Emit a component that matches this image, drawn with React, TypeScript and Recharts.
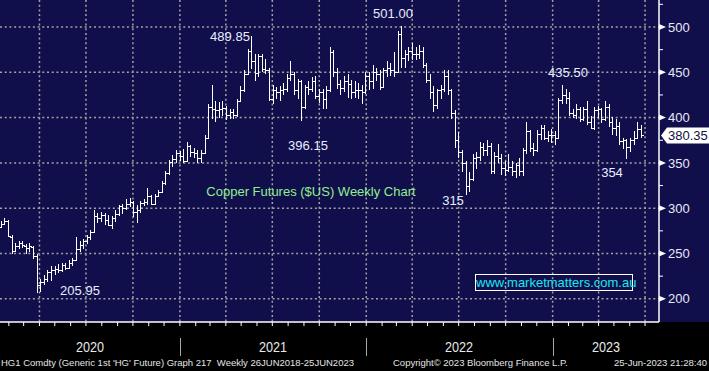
import React from "react";
import {
  ComposedChart,
  Bar,
  XAxis,
  YAxis,
  CartesianGrid,
  ReferenceLine,
} from "recharts";

const DAY = 86400000;
const firstWeek = Date.UTC(2020, 0, 17); // weekly bars, one per Friday

// weekly OHLC, HG1 copper (US c/lb)
const opens = [
  279, 283, 286, 268, 253, 258, 262, 258, 256, 257,
  247, 215, 218, 222, 230, 232, 233, 232, 237, 234,
  240, 243, 255, 259, 264, 268, 274, 291, 289, 292,
  287, 282, 289, 294, 302, 300, 305, 307, 296, 298,
  306, 307, 313, 305, 314, 318, 328, 339, 351, 354,
  361, 358, 352, 369, 362, 361, 355, 361, 378, 412,
  410, 408, 410, 411, 403, 406, 403, 418, 430, 448,
  474, 463, 449, 468, 454, 452, 420, 430, 428, 430,
  432, 444, 448, 430, 440, 412, 434, 432, 440, 424,
  428, 420, 430, 472, 450, 437, 433, 440, 437, 428,
  430, 431, 428, 446, 440, 450, 448, 434, 452, 455,
  452, 450, 492, 466, 470, 473, 470, 470, 474, 458,
  442, 428, 414, 430, 432, 446, 430, 405, 375, 362,
  350, 325, 332, 355, 356, 368, 364, 369, 341, 358,
  355, 344, 342, 345, 341, 348, 341, 364, 385, 366,
  364, 382, 389, 378, 381, 381, 378, 419, 425, 422,
  405, 403, 410, 398, 409, 395, 388, 408, 409, 398,
  412, 395, 388, 391, 374, 375, 368, 375, 377, 387,
];

const highs = [
  286, 289, 287, 270, 262, 264, 264, 260, 262, 258,
  250, 222, 226, 232, 236, 236, 238, 240, 240, 243,
  245, 268, 264, 266, 270, 276, 298, 295, 296, 295,
  293, 291, 298, 304, 305, 310, 311, 308, 304, 308,
  310, 322, 315, 316, 320, 330, 341, 353, 359, 364,
  363, 365, 373, 370, 366, 364, 364, 381, 415, 436,
  418, 417, 418, 413, 410, 410, 421, 435, 453, 476,
  489.85, 470, 470, 470, 465, 455, 436, 434, 435, 438,
  448, 462, 450, 443, 442, 436, 440, 445, 446, 432,
  432, 435, 478, 475, 455, 442, 446, 448, 442, 440,
  438, 436, 450, 450, 458, 455, 452, 455, 463, 460,
  472, 496, 501, 475, 478, 482, 478, 480, 478, 460,
  448, 435, 432, 436, 452, 452, 432, 408, 384, 364,
  352, 340, 360, 362, 373, 372, 375, 372, 362, 371,
  360, 352, 360, 352, 350, 355, 366, 395, 386, 372,
  386, 392, 392, 385, 387, 385, 422, 435.5, 432, 428,
  410, 415, 412, 412, 418, 402, 412, 413, 411, 418,
  415, 401, 398, 395, 378, 376, 378, 385, 395, 392,
];

const lows = [
  278, 281, 268, 250, 252, 255, 256, 250, 252, 244,
  205.95, 208, 215, 218, 220, 226, 228, 230, 232, 233,
  236, 242, 252, 255, 260, 265, 273, 284, 285, 281,
  280, 277, 285, 291, 294, 298, 301, 290, 284, 295,
  302, 304, 303, 303, 312, 317, 326, 337, 345, 350,
  352, 350, 351, 356, 355, 350, 350, 360, 377, 398,
  395, 400, 402, 397, 399, 399, 401, 417, 428, 447,
  454, 440, 445, 450, 448, 418, 415, 420, 418, 425,
  428, 440, 425, 420, 396.15, 410, 425, 428, 420, 416,
  410, 410, 428, 445, 432, 425, 428, 422, 420, 422,
  420, 415, 426, 430, 432, 440, 430, 433, 445, 446,
  445, 449, 455, 455, 462, 464, 464, 465, 455, 438,
  421, 406, 410, 420, 428, 425, 398, 366, 355, 340,
  315, 318, 330, 343, 352, 358, 358, 338, 338, 350,
  337, 335, 340, 335, 333, 335, 336, 360, 362, 358,
  362, 375, 375, 373, 372, 370, 376, 415, 415, 402,
  400, 398, 395, 396, 392, 387, 386, 400, 394, 396,
  390, 381, 380, 370, 365, 354, 362, 370, 376, 378,
];

const closes = [
  283, 286, 269, 253, 258, 262, 259, 256, 258, 247,
  215, 218, 222, 230, 232, 233, 232, 237, 234, 240,
  243, 255, 259, 264, 268, 274, 291, 289, 292, 287,
  282, 289, 294, 302, 300, 305, 307, 296, 298, 306,
  307, 313, 305, 314, 318, 328, 339, 351, 354, 361,
  358, 352, 369, 362, 361, 355, 361, 378, 412, 410,
  408, 410, 411, 403, 406, 403, 418, 430, 448, 474,
  463, 449, 468, 454, 452, 420, 430, 428, 430, 432,
  444, 448, 430, 440, 412, 434, 432, 440, 424, 428,
  420, 430, 472, 450, 437, 433, 440, 437, 428, 430,
  431, 428, 446, 440, 450, 448, 434, 452, 455, 452,
  450, 492, 466, 470, 473, 470, 470, 474, 458, 442,
  428, 414, 430, 432, 446, 430, 405, 375, 362, 350,
  325, 332, 355, 356, 368, 364, 369, 341, 358, 355,
  344, 342, 345, 341, 348, 341, 364, 385, 366, 364,
  382, 389, 378, 381, 381, 378, 419, 425, 422, 405,
  403, 410, 398, 409, 395, 388, 408, 409, 398, 412,
  395, 388, 391, 374, 375, 368, 375, 377, 387, 380.35,
];

const priceTicks = [200, 225, 250, 275, 300, 325, 350, 375, 400, 425, 450, 475, 500, 525];
const gridPrices = [200, 250, 300, 350, 400, 450, 500];
const yearLabels = ["2020", "2021", "2022", "2023"];

const toYear = (ms: number) => 2020 + (ms - Date.UTC(2020, 0, 1)) / (365.25 * DAY);

const X_DOMAIN: [number, number] = [2020.0375, 2023.571];
const PLOT_W = 659;
const xPix = (t: number) => ((t - X_DOMAIN[0]) / (X_DOMAIN[1] - X_DOMAIN[0])) * PLOT_W;

const data = closes.map((c, i) => ({
  t: toYear(firstWeek + i * 7 * DAY),
  open: opens[i],
  high: highs[i],
  low: lows[i],
  close: c,
  range: [lows[i], highs[i]],
}));

const monthTicks: number[] = [];
const quarterTicks: number[] = [];
for (let y = 2020; y <= 2023; y++) {
  for (let m = 0; m < 12; m++) {
    const t = toYear(Date.UTC(y, m, 1));
    if (t < X_DOMAIN[0] || t > X_DOMAIN[1]) continue;
    monthTicks.push(t);
    if (m % 3 === 0) quarterTicks.push(t);
  }
}

const lastClose = closes[closes.length - 1];
const FONT = "'Liberation Sans', Arial, sans-serif";

const OhlcShape = (props: any) => {
  const { x, y, width, height, payload } = props;
  if (x == null || y == null || !payload) return null;
  const cx = Math.round(x + width / 2) + 0.5;
  const top = Math.min(y, y + height);
  const h = Math.abs(height);
  const span = payload.high - payload.low || 1;
  const yOf = (v: number) => Math.round(top + ((payload.high - v) / span) * h) + 0.5;
  return (
    <g stroke="#ffffff" strokeWidth={1.1} shapeRendering="crispEdges">
      <line x1={cx} x2={cx} y1={top} y2={top + h} />
      <line x1={cx - 2.5} x2={cx} y1={yOf(payload.open)} y2={yOf(payload.open)} />
      <line x1={cx} x2={cx + 2.5} y1={yOf(payload.close)} y2={yOf(payload.close)} />
    </g>
  );
};

const PriceTick = (props: any) => {
  const { x, y, payload } = props;
  const v = payload.value;
  if (v % 50 !== 0) {
    return <line x1={x} x2={x + 4} y1={y} y2={y} stroke="#ffffff" strokeWidth={1} />;
  }
  return (
    <g>
      <polygon points={`${x},${y - 3} ${x + 7},${y} ${x},${y + 3}`} fill="#ffffff" />
      <text x={x + 9} y={y} dy="0.36em" fill="#e6e8f8" fontSize={13} fontFamily={FONT}>
        {v}
      </text>
    </g>
  );
};

const EmptyTick = () => <g />;

const LastTag = (props: any) => {
  const vb = props.viewBox || {};
  const x = (vb.x || 0) + (vb.width || 0);
  const y = vb.y || 0;
  return (
    <g>
      <polygon
        points={`${x + 2},${y} ${x + 8},${y - 8} 709,${y - 8} 709,${y + 8} ${x + 8},${y + 8}`}
        fill="#ffffff"
      />
      <text x={x + 9} y={y} dy="0.36em" fill="#10103a" fontSize={13} fontFamily={FONT}>
        {lastClose.toFixed(2)}
      </text>
    </g>
  );
};

const Note = ({ x, y, color, size = 13, children }: any) => (
  <div
    style={{
      position: "absolute",
      left: x,
      top: y,
      transform: "translate(-50%, -50%)",
      color,
      fontSize: size,
      lineHeight: 1,
      whiteSpace: "nowrap",
      fontFamily: FONT,
    }}
  >
    {children}
  </div>
);

export default function App() {
  const yearStarts = [X_DOMAIN[0], 2021, 2022, 2023, X_DOMAIN[1]];
  return (
    <div style={{ position: "relative", width: 709, height: 371, background: "#000", overflow: "hidden" }}>
      <style>{"body{margin:0}"}</style>
      <div style={{ position: "absolute", left: 0, top: 0, width: 709, height: 322, background: "#110f4b" }} />
      <ComposedChart width={709} height={371} data={data} margin={{ top: 0, right: 0, bottom: 0, left: 0 }}>
        <CartesianGrid
          stroke="#a2a2a2"
          strokeWidth={1.5}
          strokeDasharray="2 2.7"
          horizontalValues={gridPrices}
          verticalValues={quarterTicks}
        />
        <XAxis
          type="number"
          dataKey="t"
          domain={X_DOMAIN}
          allowDataOverflow
          ticks={monthTicks}
          interval={0}
          tick={<EmptyTick />}
          tickSize={4}
          tickLine={{ stroke: "#ffffff" }}
          axisLine={{ stroke: "#ffffff", strokeWidth: 1.5 }}
          height={49}
        />
        <YAxis
          orientation="right"
          type="number"
          domain={[174.4, 529.8]}
          allowDataOverflow
          ticks={priceTicks}
          interval={0}
          width={50}
          tickSize={0}
          tickMargin={0}
          tickLine={false}
          axisLine={{ stroke: "#ffffff", strokeWidth: 1.5 }}
          tick={<PriceTick />}
        />
        <Bar dataKey="range" shape={OhlcShape} barSize={3} isAnimationActive={false} />
        <ReferenceLine y={lastClose} stroke="none" ifOverflow="visible" label={<LastTag />} />
      </ComposedChart>

      {/* chart annotations */}
      <Note x={230} y={36} color="#e8ecff">489.85</Note>
      <Note x={393} y={13} color="#e8ecff">501.00</Note>
      <Note x={308} y={145} color="#e8ecff">396.15</Note>
      <Note x={453} y={200} color="#e8ecff">315</Note>
      <Note x={568} y={72} color="#e8ecff">435.50</Note>
      <Note x={612} y={172} color="#e8ecff">354</Note>
      <Note x={80} y={290} color="#e8ecff">205.95</Note>
      <Note x={311} y={191} color="#90ee90">Copper Futures ($US) Weekly Chart</Note>
      <div
        style={{
          position: "absolute",
          left: 475,
          top: 274,
          width: 156,
          height: 15,
          border: "1px solid #ffffff",
          color: "#19e8f2",
          fontSize: 13,
          lineHeight: "15px",
          textAlign: "center",
          fontFamily: FONT,
          whiteSpace: "nowrap",
        }}
      >
        www.marketmatters.com.au
      </div>

      {/* year band under the axis */}
      {yearLabels.map((label, i) => (
        <div
          key={label}
          style={{
            position: "absolute",
            left: (xPix(yearStarts[i]) + xPix(yearStarts[i + 1])) / 2,
            top: 347,
            transform: "translate(-50%, -50%) scaleX(0.9)",
            color: "#e8e8e8",
            fontSize: 14,
            lineHeight: 1,
            fontFamily: FONT,
          }}
        >
          {label}
        </div>
      ))}
      {yearStarts.slice(1, 4).map((t) => (
        <div
          key={t}
          style={{ position: "absolute", left: xPix(t), top: 338, width: 1, height: 18, background: "#a8a8a8" }}
        />
      ))}

      {/* footer */}
      <div style={{ position: "absolute", left: 1, top: 357, fontSize: 9.5, color: "#e4e4e4", fontFamily: FONT, whiteSpace: "nowrap" }}>
        HG1 Comdty (Generic 1st 'HG' Future) Graph 217&nbsp; Weekly 26JUN2018-25JUN2023
      </div>
      <div style={{ position: "absolute", left: 393, top: 357, fontSize: 9.5, color: "#e4e4e4", fontFamily: FONT, whiteSpace: "nowrap" }}>
        Copyright© 2023 Bloomberg Finance L.P.
      </div>
      <div style={{ position: "absolute", right: 2, top: 357, fontSize: 9.5, color: "#e4e4e4", fontFamily: FONT, whiteSpace: "nowrap" }}>
        25-Jun-2023 21:28:40
      </div>
    </div>
  );
}
